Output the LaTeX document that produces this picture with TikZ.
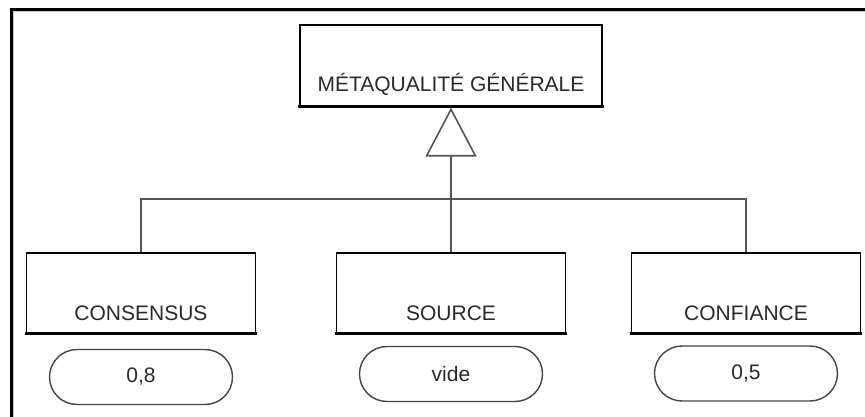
\documentclass[tikz,border=0pt]{standalone}
\usepackage{fontspec}
\setmainfont{Liberation Sans}
\usetikzlibrary{arrows.meta,shapes.misc}
\definecolor{txt}{HTML}{2A2A2A}
\definecolor{conn}{HTML}{555555}
\definecolor{ovl}{HTML}{444444}
\tikzset{
  topbox/.style={draw=black, line width=1.6pt, minimum width=302pt, inner xsep=0pt, inner ysep=0pt,
    text height=66.5pt, text depth=14.5pt, text=txt, font=\fontsize{21}{25}\selectfont},
  leafbox/.style={draw=black, line width=1.6pt, minimum width=229pt, inner xsep=0pt, inner ysep=0pt,
    text height=67.5pt, text depth=12.5pt, text=txt, font=\fontsize{21}{25}\selectfont},
  valbox/.style={draw=ovl, line width=1.4pt, rounded rectangle, minimum width=183pt, minimum height=55pt,
    inner sep=0pt, text=txt, font=\fontsize{21}{25}\selectfont},
  connline/.style={draw=conn, line width=1.6pt},
  shadowedge/.style={draw=black, line width=3pt},
}
\begin{document}
\begin{tikzpicture}[x=1pt,y=-1pt]
\useasboundingbox (0,0) rectangle (865,417);
\fill[white] (0,0) rectangle (865,417);
% frame
\draw[line width=3pt] (865,9.5) -- (11,9.5) -- (11,417);
\draw[gray!45, line width=1pt] (865,12) -- (13.5,12) -- (13.5,417);
% nodes
\node[topbox, anchor=north] (top) at (451,24) {MÉTAQUALITÉ GÉNÉRALE};
\node[leafbox, anchor=north] (c1) at (141,252) {CONSENSUS};
\node[leafbox, anchor=north] (c2) at (451,252) {SOURCE};
\node[leafbox, anchor=north] (c3) at (746,252) {CONFIANCE};
\draw[shadowedge] ([xshift=-0.8pt]top.south west) -- ([xshift=0.8pt]top.south east);
\draw[shadowedge] ([xshift=-0.8pt]c1.south west) -- ([xshift=0.8pt]c1.south east);
\draw[shadowedge] ([xshift=-0.8pt]c2.south west) -- ([xshift=0.8pt]c2.south east);
\draw[shadowedge] ([xshift=-0.8pt]c3.south west) -- ([xshift=0.8pt]c3.south east);
\node[valbox] (v1) at (141,377) {0,8};
\node[valbox] (v2) at (451,374) {vide};
\node[valbox] (v3) at (746,373.5) {0,5};
% connectors
\coordinate (jn) at (451,199);
\draw[connline] (c1.north) |- (jn) -| (c3.north);
\draw[connline, -{Triangle[open, length=49pt, width=51pt, line width=1.6pt]}, shorten >=1pt] (c2.north) -- (top.south);
\end{tikzpicture}
\end{document}
